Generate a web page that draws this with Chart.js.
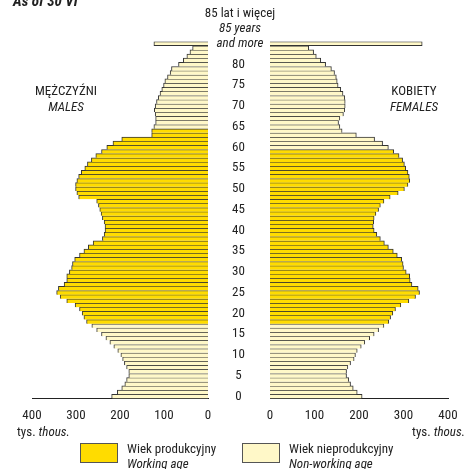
<!DOCTYPE html>
<html>
<head>
<meta charset="utf-8">
<script src="https://cdn.jsdelivr.net/npm/chart.js@4.4.0/dist/chart.umd.min.js"></script>
<style>
    body { margin: 0; width: 467px; height: 469px; overflow: hidden; background: #fff; position: relative;
           font-family: 'Liberation Sans Narrow', 'Arial Narrow', 'Roboto Condensed', 'Liberation Sans', Arial, sans-serif;
           color: #222; font-size: 13px; }
    canvas { position: absolute; top: 0; }
    #leftChart { left: 0; }
    #rightChart { left: 240px; }
    .txt { position: absolute; line-height: 15px; white-space: nowrap; z-index: 2; }
    .it { font-style: italic; }
    .box { position: absolute; width: 36px; height: 18px; border: 1px solid #555; z-index: 2; }
</style>
</head>
<body>
<canvas id="leftChart" width="270" height="469"></canvas>
<canvas id="rightChart" width="227" height="469"></canvas>

<div class="txt" style="left:13px; top:-6px; font-weight:bold; font-style:italic; font-size:15px;">As of 30 VI</div>
<div class="txt" style="left:190px; top:5px; width:100px; text-align:center;">85 lat i więcej<br><span class="it">85 years</span><br><span class="it">and more</span></div>
<div class="txt" style="left:16px; top:83px; width:100px; text-align:center; line-height:16px;">MĘŻCZYŹNI<br><span class="it">MALES</span></div>
<div class="txt" style="left:364px; top:83px; width:100px; text-align:center; line-height:16px;">KOBIETY<br><span class="it">FEMALES</span></div>
<div class="txt" style="left:17px; top:424px;">tys. <span class="it">thous.</span></div>
<div class="txt" style="right:2px; top:424px;">tys. <span class="it">thous.</span></div>

<div class="box" style="left:80px; top:443px; background:#FFDC00;"></div>
<div class="txt" style="left:127px; top:441px;">Wiek produkcyjny<br><span class="it">Working age</span></div>
<div class="box" style="left:242px; top:443px; background:#FFF8C8;"></div>
<div class="txt" style="left:289px; top:441px;">Wiek nieprodukcyjny<br><span class="it">Non-working age</span></div>

<script>
// ages 0 .. 84, then 85 and more
const ages = [];
for (let a = 0; a <= 84; a++) ages.push(String(a));
ages.push('85+');

const ageTicks = ['0', '5', '10', '15', '20', '25', '30', '35', '40', '45', '50', '55', '60', '65', '70', '75', '80'];
const valueTicks = [0, 100, 200, 300, 400];

// thousands, index = age
const males = [
    219, 206, 196, 189, 185, 180, 180, 185, 190, 194,
    198, 205, 214, 223, 232, 242, 253, 264, 276, 282,
    286, 292, 302, 321, 336, 344, 340, 327, 321, 321,
    315, 310, 308, 303, 292, 282, 272, 261, 240, 236,
    234, 234, 236, 240, 243, 246, 249, 253, 294, 298,
    301, 301, 298, 294, 288, 280, 274, 265, 255, 242,
    230, 216, 196, 128, 128, 123, 119, 119, 120, 122,
    120, 117, 113, 109, 105, 101, 98, 92, 86, 83,
    67, 56, 48, 41, 35, 123
];
const females = [
    207, 196, 187, 181, 177, 172, 172, 175, 181, 189,
    192, 196, 205, 213, 224, 234, 244, 256, 267, 271,
    276, 282, 294, 312, 327, 336, 333, 319, 315, 314,
    306, 300, 299, 296, 286, 277, 266, 257, 248, 240,
    234, 232, 233, 234, 238, 244, 248, 256, 270, 288,
    302, 310, 314, 313, 310, 305, 302, 298, 290, 278,
    266, 253, 235, 194, 162, 157, 154, 157, 165, 168,
    169, 169, 168, 164, 159, 153, 151, 149, 145, 138,
    125, 114, 104, 98, 87, 342
];

// working age: men 18-64, women 18-59
const maleWorking = [18, 64];
const femaleWorking = [18, 59];

const workColor = '#FFDC00';
const nonWorkColor = '#FFF8C8';
const edgeColor = '#333';
const fontFamily = "'Liberation Sans Narrow', 'Arial Narrow', 'Roboto Condensed', 'Liberation Sans', Arial, sans-serif";

function split(values, range) {
    const work = values.map((v, i) => (i >= range[0] && i <= range[1]) ? v : null);
    const rest = values.map((v, i) => (i >= range[0] && i <= range[1]) ? null : v);
    return [work, rest];
}

function barSet(data, color) {
    return {
        data: data,
        backgroundColor: color,
        borderColor: edgeColor,
        // one dark line between neighbouring bars; the open-ended top bar gets a full outline
        borderWidth: function(ctx) {
            const last = ctx.dataIndex === ages.length - 1;
            return { top: 1, bottom: last ? 1 : 0, left: 1, right: 1 };
        },
        grouped: false,
        categoryPercentage: 1,
        barPercentage: 1
    };
}

function makeChart(id, values, range, isLeft) {
    const parts = split(values, range);
    return new Chart(document.getElementById(id), {
        type: 'bar',
        data: {
            labels: ages,
            datasets: [barSet(parts[0], workColor), barSet(parts[1], nonWorkColor)]
        },
        options: {
            indexAxis: 'y',
            responsive: false,
            animation: false,
            layout: {
                padding: isLeft ? { left: 32, top: 41.6, right: 0, bottom: 0 }
                                : { left: 30, top: 41.6, right: 19, bottom: 0 }
            },
            plugins: { legend: { display: false }, tooltip: { enabled: false } },
            scales: {
                x: {
                    reverse: isLeft,
                    min: 0,
                    max: 400,
                    afterBuildTicks: function(scale) {
                        scale.ticks = valueTicks.map(v => ({ value: v }));
                    },
                    afterFit: function(scale) { scale.height = 469 - 398.4; },
                    grid: { display: false, drawTicks: true, tickLength: 4 },
                    border: { display: true, color: '#222', width: 1 },
                    ticks: {
                        color: '#222',
                        padding: 6,
                        font: { family: fontFamily, size: 13 }
                    }
                },
                y: {
                    reverse: true,
                    position: isLeft ? 'right' : 'left',
                    display: isLeft,
                    afterFit: function(scale) { scale.width = isLeft ? 62 : 0; },
                    grid: { display: false, drawTicks: false },
                    border: { display: false },
                    ticks: {
                        autoSkip: false,
                        crossAlign: 'center',
                        padding: 24,
                        color: '#222',
                        font: { family: fontFamily, size: 13 },
                        callback: function(value, index) {
                            const lbl = ages[index];
                            return ageTicks.includes(lbl) ? lbl : null;
                        }
                    }
                }
            }
        }
    });
}

makeChart('leftChart', males, maleWorking, true);
makeChart('rightChart', females, femaleWorking, false);
</script>
</body>
</html>
